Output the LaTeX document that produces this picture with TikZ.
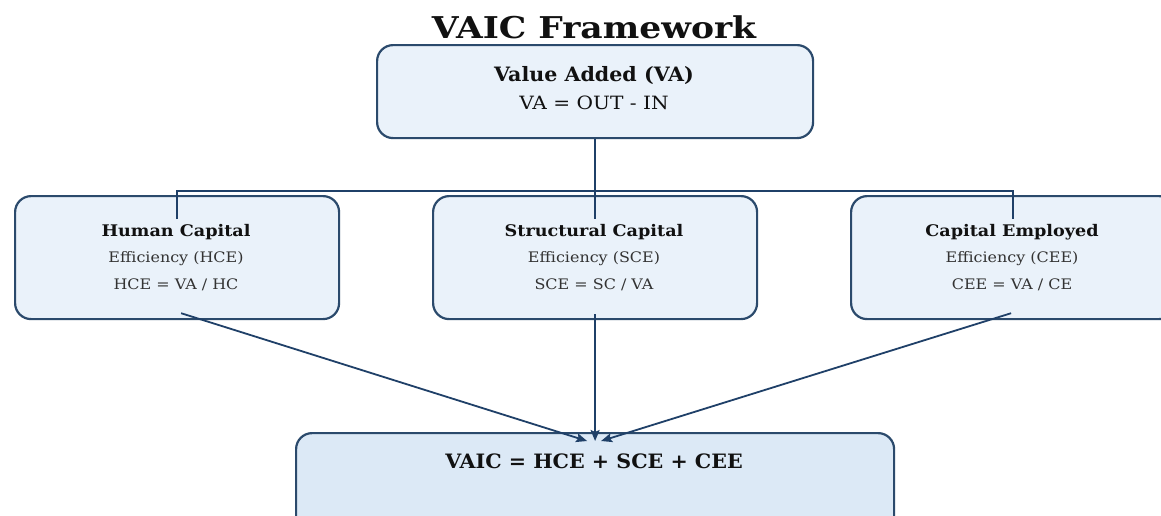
\documentclass[tikz,border=0pt]{standalone}
\usepackage{fontspec}
\setmainfont{DejaVu Serif}
\newfontfamily\titleserif[FakeStretch=1.15]{DejaVu Serif}
\newfontfamily\headserif[FakeStretch=1.04]{DejaVu Serif}
\newfontfamily\wideserif[FakeStretch=1.10]{DejaVu Serif}
\usetikzlibrary{arrows.meta,calc}

\definecolor{boxfill}{HTML}{EAF2FA}
\definecolor{sumfill}{HTML}{DCE9F6}
\definecolor{edge}{HTML}{2B4A6C}
\definecolor{link}{HTML}{1F4068}
\definecolor{subtext}{HTML}{333333}
\definecolor{maintext}{HTML}{111111}

\begin{document}
\begin{tikzpicture}[x=1pt,y=-1pt,
  card/.style={draw=edge, line width=2.2pt, rounded corners=16pt,
    inner sep=0pt, anchor=north west, fill=boxfill},
  sumcard/.style={card, fill=sumfill},
  heading/.style={font=\headserif\bfseries\fontsize{19.8}{24}\selectfont, text=maintext, inner sep=0pt},
  formula/.style={font=\wideserif\fontsize{18.3}{22}\selectfont, text=maintext, inner sep=0pt},
  subhead/.style={font=\wideserif\bfseries\fontsize{16}{19}\selectfont, text=maintext, inner sep=0pt},
  subline/.style={font=\wideserif\fontsize{14.5}{17}\selectfont, text=subtext, inner sep=0pt},
  tree/.style={draw=link, line width=1.8pt},
  feed/.style={draw=link, line width=1.8pt, -{Stealth[length=11pt,width=9pt,inset=2pt]}}
]
\useasboundingbox (0,0) rectangle (1161,515);
\fill[white] (0,0) rectangle (1161,515);
\clip (0,0) rectangle (1161,515);

% title
\node[font=\titleserif\bfseries\fontsize{30}{36}\selectfont, text=maintext, inner sep=0pt] (title) at (594,27) {VAIC Framework};

% value added
\node[card, minimum width=436pt, minimum height=93pt] (va) at (376,44) {};
\node[heading] (vaH) at (594,76) {Value Added (VA)};
\node[formula] (vaF) at (594,103) {VA = OUT - IN};

% three efficiency components
\node[card, minimum width=324pt, minimum height=123pt] (hc) at (14,195) {};
\node[card, minimum width=324pt, minimum height=123pt] (sc) at (432,195) {};
\node[card, minimum width=324pt, minimum height=123pt] (ce) at (850,195) {};

\node[subhead] (hcH) at (176,232) {Human Capital};
\node[subline] (hcE) at (176,259) {Efficiency (HCE)};
\node[subline] (hcF) at (176,285) {HCE = VA / HC};

\node[subhead] (scH) at (594,232) {Structural Capital};
\node[subline] (scE) at (594,259) {Efficiency (SCE)};
\node[subline] (scF) at (594,285) {SCE = SC / VA};

\node[subhead] (ceH) at (1012,232) {Capital Employed};
\node[subline] (ceE) at (1012,259) {Efficiency (CEE)};
\node[subline] (ceF) at (1012,285) {CEE = VA / CE};

% aggregate
\node[sumcard, minimum width=598pt, minimum height=110pt] (vaic) at (295,432) {};
\node[heading] (vaicT) at (594,461) {VAIC = HCE + SCE + CEE};

% branching tree from value added
\coordinate (bus) at ($(va.south)+(0,52)$);
\coordinate (hcIn) at ($(hc.north)+(0,24)$);
\coordinate (scIn) at ($(sc.north)+(0,24)$);
\coordinate (ceIn) at ($(ce.north)+(0,24)$);
\draw[tree] (va.south) -- (scIn);
\draw[tree] (hcIn) -- (hcIn |- bus) -- (ceIn |- bus) -- (ceIn);

% feeds into the aggregate
\coordinate (hcOut) at ($(hc.south)+(4,-7)$);
\coordinate (scOut) at ($(sc.south)+(0,-6)$);
\coordinate (ceOut) at ($(ce.south)+(-2,-7)$);
\draw[feed] (hcOut) -- ($(vaic.north)+(-8,9)$);
\draw[feed] (scOut) -- ($(vaic.north)+(0,9)$);
\draw[feed] (ceOut) -- ($(vaic.north)+(6,9)$);
\end{tikzpicture}
\end{document}
